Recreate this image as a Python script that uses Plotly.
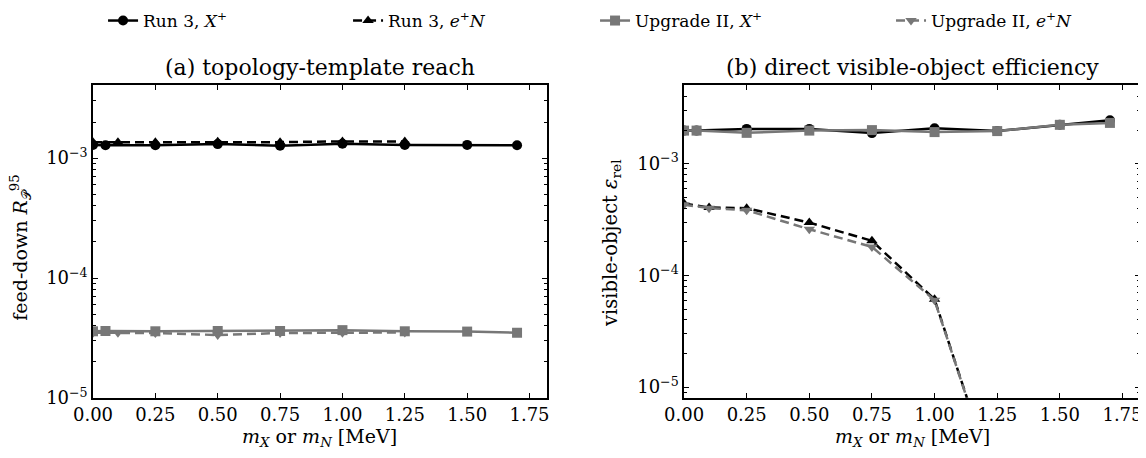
import plotly.graph_objects as go

# ---------------- data ----------------
x_xplus = [0.0, 0.05, 0.25, 0.5, 0.75, 1.0, 1.25, 1.5, 1.7]
x_en = [0.0, 0.1, 0.25, 0.5, 0.75, 1.0, 1.25]

# (a) topology-template reach
run3_x_reach = [1.29e-3, 1.28e-3, 1.28e-3, 1.31e-3, 1.27e-3, 1.32e-3, 1.29e-3, 1.29e-3, 1.28e-3]
run3_en_reach = [1.36e-3, 1.36e-3, 1.36e-3, 1.37e-3, 1.36e-3, 1.38e-3, 1.38e-3]
up2_x_reach = [3.60e-5, 3.62e-5, 3.60e-5, 3.62e-5, 3.62e-5, 3.68e-5, 3.60e-5, 3.58e-5, 3.50e-5]
up2_en_reach = [3.50e-5, 3.50e-5, 3.48e-5, 3.35e-5, 3.48e-5, 3.50e-5, 3.52e-5]

# (b) direct visible-object efficiency
run3_x_eff = [1.98e-3, 1.98e-3, 2.05e-3, 2.05e-3, 1.88e-3, 2.08e-3, 1.96e-3, 2.23e-3, 2.45e-3]
up2_x_eff = [1.98e-3, 1.98e-3, 1.89e-3, 1.98e-3, 2.00e-3, 1.92e-3, 1.96e-3, 2.23e-3, 2.32e-3]
run3_en_eff = [4.4e-4, 4.05e-4, 4.0e-4, 2.97e-4, 2.04e-4, 6.1e-5, 1.2e-6]
up2_en_eff = [4.3e-4, 4.0e-4, 3.83e-4, 2.59e-4, 1.80e-4, 6.0e-5, 1.2e-6]

labels = ["Run 3, <i>X</i><sup>+</sup>", "Run 3, <i>e</i><sup>+</sup><i>N</i>",
          "Upgrade II, <i>X</i><sup>+</sup>", "Upgrade II, <i>e</i><sup>+</sup><i>N</i>"]
x_ticks = [0, 0.25, 0.5, 0.75, 1.0, 1.25, 1.5, 1.75]

# ---------------- styling ----------------
BLACK = "#000000"
GRAY = "#777777"
FONT = "DejaVu Serif"
DASH = "9px,5px"

styles = [
    dict(color=BLACK, dash="solid", symbol="circle"),
    dict(color=BLACK, dash=DASH, symbol="triangle-up"),
    dict(color=GRAY, dash="solid", symbol="square"),
    dict(color=GRAY, dash=DASH, symbol="triangle-down"),
]
legend_ids = ["legend", "legend2", "legend3", "legend4"]
legend_x = [0.0096, 0.2436, 0.4795, 0.7622]

fig = go.Figure()

panels = [
    ("x", "y", [run3_x_reach, run3_en_reach, up2_x_reach, up2_en_reach], True),
    ("x2", "y2", [run3_x_eff, run3_en_eff, up2_x_eff, up2_en_eff], False),
]
xs = [x_xplus, x_en, x_xplus, x_en]

for xa, ya, series, show in panels:
    for i, (xv, yv) in enumerate(zip(xs, series)):
        st = styles[i]
        fig.add_trace(go.Scatter(
            x=xv, y=yv, xaxis=xa, yaxis=ya, mode="lines+markers",
            name=labels[i], showlegend=show, legend=legend_ids[i],
            line=dict(color=st["color"], width=2.5, dash=st["dash"]),
            marker=dict(symbol=st["symbol"], size=10, color=st["color"]),
            cliponaxis=True,
        ))

def minor_vals(lo, hi):
    return [m * 10 ** e for e in range(lo, hi) for m in range(2, 10)]

yt_vals = [1e-5, 1e-4, 1e-3]
yt_text = ["10<sup>−5</sup>", "10<sup>−4</sup>", "10<sup>−3</sup>"]

xaxis_common = dict(
    range=[0, 1.82], tickvals=x_ticks, tickformat=".2f",
    ticks="inside", ticklen=5, tickwidth=1.2, tickcolor="black",
    showline=True, linecolor="black", linewidth=1.5, mirror="ticks",
    showgrid=False, zeroline=False,
    tickfont=dict(family=FONT, size=18, color="black"),
)
yaxis_common = dict(
    type="log", tickvals=yt_vals, ticktext=yt_text,
    ticks="inside", ticklen=5, tickwidth=1.2, tickcolor="black",
    showline=True, linecolor="black", linewidth=1.5, mirror="ticks",
    showgrid=False, zeroline=False,
    minor=dict(ticks="inside", ticklen=3, tickwidth=1, tickcolor="black",
               tickvals=minor_vals(-7, -2), showgrid=False),
    tickfont=dict(family=FONT, size=18, color="black"),
)

layout_legends = {}
for lid, lx in zip(legend_ids, legend_x):
    layout_legends[lid] = dict(
        orientation="h", x=lx, xanchor="left", y=1.2045, yanchor="middle",
        font=dict(family=FONT, size=17, color="black"),
        bgcolor="rgba(0,0,0,0)", borderwidth=0,
    )

fig.update_layout(
    width=1138, height=442,
    margin=dict(l=85, r=6, t=77, b=52, autoexpand=False),
    paper_bgcolor="white", plot_bgcolor="white",
    font=dict(family=FONT, size=18, color="black"),
    xaxis=dict(domain=[0, 0.4336], anchor="y", **xaxis_common),
    yaxis=dict(domain=[0, 1], anchor="x", range=[-5, -2.39], **yaxis_common),
    xaxis2=dict(domain=[0.5645, 1.0], anchor="y2", **xaxis_common),
    yaxis2=dict(domain=[0, 1], anchor="x2", range=[-5.098, -2.295], **yaxis_common),
    showlegend=True,
    **layout_legends,
)

ann = [
    dict(text="(a) topology-template reach", x=0.2168, y=1.0575, xref="paper", yref="paper",
         xanchor="center", yanchor="middle", showarrow=False, font=dict(size=22)),
    dict(text="(b) direct visible-object efficiency", x=0.7823, y=1.0575, xref="paper", yref="paper",
         xanchor="center", yanchor="middle", showarrow=False, font=dict(size=22)),
    dict(text="feed-down <i>R</i><sub>𝒫</sub><sup>95</sup>", x=-0.0700, y=0.479, xref="paper", yref="paper",
         xanchor="center", yanchor="middle", showarrow=False, textangle=-90, font=dict(size=19)),
    dict(text="visible-object <i>ε</i><sub>rel</sub>", x=0.4947, y=0.495, xref="paper", yref="paper",
         xanchor="center", yanchor="middle", showarrow=False, textangle=-90, font=dict(size=19.5)),
    dict(text="<i>m</i><sub><i>X</i></sub> or <i>m</i><sub><i>N</i></sub> [MeV]", x=0.2168, y=-0.125,
         xref="paper", yref="paper", xanchor="center", yanchor="middle", showarrow=False, font=dict(size=19)),
    dict(text="<i>m</i><sub><i>X</i></sub> or <i>m</i><sub><i>N</i></sub> [MeV]", x=0.7823, y=-0.125,
         xref="paper", yref="paper", xanchor="center", yanchor="middle", showarrow=False, font=dict(size=19)),
]
fig.update_layout(annotations=ann)

fig.write_html("out.html")
